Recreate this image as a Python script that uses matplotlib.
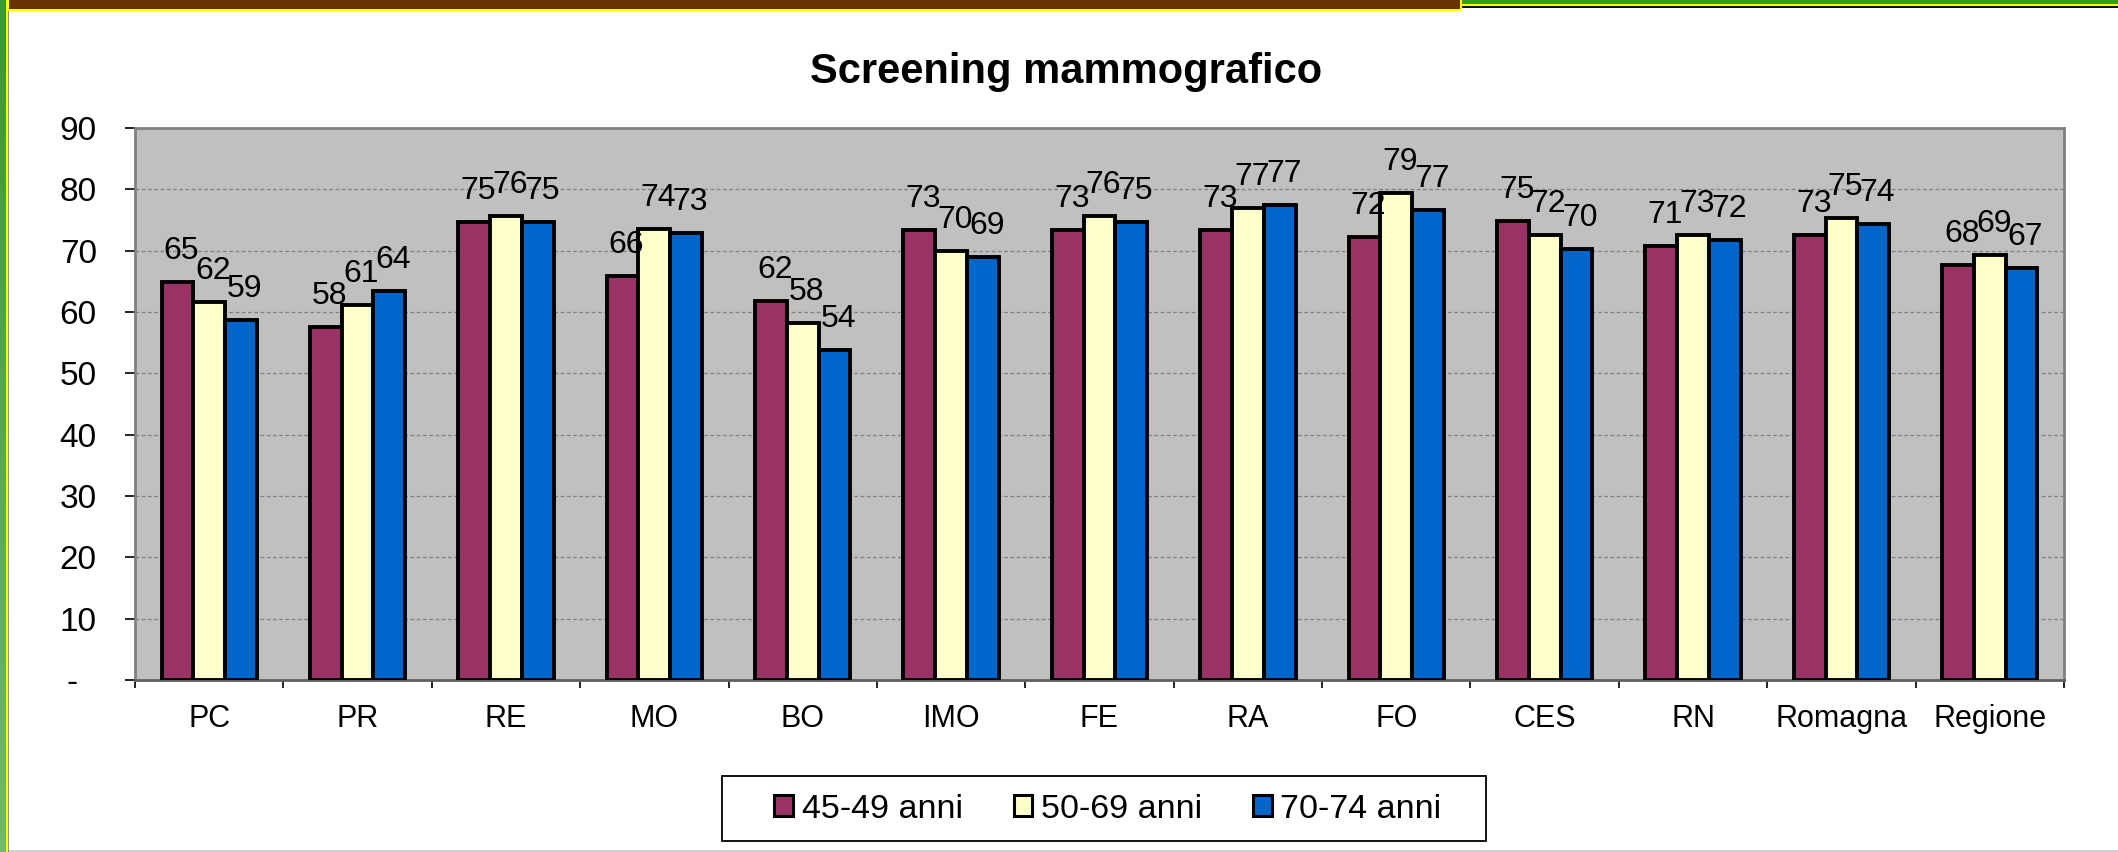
import matplotlib
matplotlib.use("Agg")
import matplotlib.pyplot as plt
import numpy as np
from matplotlib.patches import Rectangle, Patch
from matplotlib.colors import LinearSegmentedColormap

# ---- data ----
categories = ["PC", "PR", "RE", "MO", "BO", "IMO", "FE", "RA", "FO", "CES", "RN", "Romagna", "Regione"]
series_names = ["45-49 anni", "50-69 anni", "70-74 anni"]
v_45_49 = [64.9, 57.6, 74.6, 65.9, 61.8, 73.3, 73.3, 73.3, 72.3, 74.9, 70.8, 72.6, 67.6]
v_50_69 = [61.7, 61.1, 75.7, 73.6, 58.2, 70.0, 75.6, 76.9, 79.4, 72.5, 72.6, 75.3, 69.3]
v_70_74 = [58.7, 63.5, 74.6, 72.8, 53.8, 68.9, 74.6, 77.4, 76.7, 70.3, 71.7, 74.3, 67.2]
y_ticks = [0, 10, 20, 30, 40, 50, 60, 70, 80, 90]
y_tick_labels = ["-  ", "10", "20", "30", "40", "50", "60", "70", "80", "90"]
title = "Screening mammografico"

colors = ["#993366", "#FFFFCC", "#0066CC"]

plt.rcParams['font.family'] = ['Liberation Sans', 'DejaVu Sans']

W, H = 2118, 852
fig = plt.figure(figsize=(W / 100, H / 100), dpi=100)
fig.patch.set_facecolor("white")


def fig_rect(x0, y0, x1, y1, color, z=5):
    """rectangle in full-image pixel coords (y from top)"""
    r = Rectangle((x0 / W, 1 - y1 / H), (x1 - x0) / W, (y1 - y0) / H,
                  transform=fig.transFigure, facecolor=color, edgecolor="none",
                  zorder=z)
    fig.add_artist(r)
    return r


# ---- main axes ----
ax = fig.add_axes([135 / W, 1 - 680 / H, (2064 - 135) / W, (680 - 128) / H])
ax.set_facecolor("#C0C0C0")

x = np.arange(len(categories))
w = 0.214
series = [v_45_49, v_50_69, v_70_74]
for k, vals in enumerate(series):
    bars = ax.bar(x + (k - 1) * w, vals, width=w, color=colors[k],
                  edgecolor="black", linewidth=2.8, label=series_names[k], zorder=3)
    for rect, v in zip(bars, vals):
        ax.annotate(f"{v:.0f}", (rect.get_x() + rect.get_width() / 2, rect.get_height()),
                    xytext=(4, 23), textcoords="offset pixels", ha="center",
                    va="baseline", fontsize=23, color="black", zorder=4)

ax.set_xlim(-0.5, len(categories) - 0.5)
ax.set_ylim(0, 90)
ax.set_yticks(y_ticks)
ax.set_yticklabels(y_tick_labels, fontsize=24)
ax.set_xticks(x)
ax.set_xticklabels(categories, fontsize=22)
ax.set_xticks(np.arange(-0.5, len(categories), 1.0), minor=True)
ax.tick_params(axis="x", which="major", length=0, pad=17)
ax.tick_params(axis="x", which="minor", length=6, width=1.2, color="black", direction="out")
ax.tick_params(axis="y", which="major", length=7.5, width=1.2, color="black",
               direction="out", pad=20)

for yv in y_ticks[1:-1]:
    ax.axhline(yv, color="#808080", linewidth=0.9, linestyle=(0, (3, 2)), zorder=1)

for s in ["top", "right", "left", "bottom"]:
    ax.spines[s].set_color("#808080")
    ax.spines[s].set_linewidth(2)
ax.spines["bottom"].set_color("#606060")

# ---- title ----
fig.text(1066 / W, 1 - 83 / H, title, ha="center", va="baseline",
         fontsize=30, fontweight="bold")

# ---- legend ----
fig_rect(722, 776, 1486, 841, "white", z=1)
box = Rectangle((722 / W, 1 - 841 / H), (1486 - 722) / W, (841 - 776) / H,
                transform=fig.transFigure, facecolor="none", edgecolor="black",
                linewidth=1.3, zorder=6)
fig.add_artist(box)
handles = [Patch(facecolor=c, edgecolor="black", linewidth=2.2) for c in colors]
leg = fig.legend(handles, series_names, loc="center",
                 bbox_to_anchor=(1108 / W, 1 - 809 / H), ncol=3, frameon=False,
                 fontsize=24.5, handlelength=0.55, handleheight=0.55,
                 handletextpad=0.25, columnspacing=1.5)

# ---- decorations ----
gax = fig.add_axes([0, 0, 6 / W, 1])
grad = np.linspace(0, 1, 256).reshape(-1, 1)
cm = LinearSegmentedColormap.from_list("g", ["#3A9A22", "#74BA5E"])
gax.imshow(grad, aspect="auto", cmap=cm, extent=[0, 1, 1, 0])
gax.set_axis_off()
fig_rect(6, 0, 8, H, "#FFFF00")
fig_rect(8, 0, 9, H, "#909090")
fig_rect(8, 0, 1462, 11, "#FFFF00")
fig_rect(9, 0, 1460, 9, "#663300")
fig_rect(1462, 0, W, 4.5, "#3A9A22")
fig_rect(1462, 4.5, W, 6.5, "#FFFF00")
fig_rect(1462, 6.5, W, 8, "#111111")
fig_rect(9, 849.5, W, H, "#D0D0D0")

fig.savefig("out.png", dpi=100, facecolor="white")
